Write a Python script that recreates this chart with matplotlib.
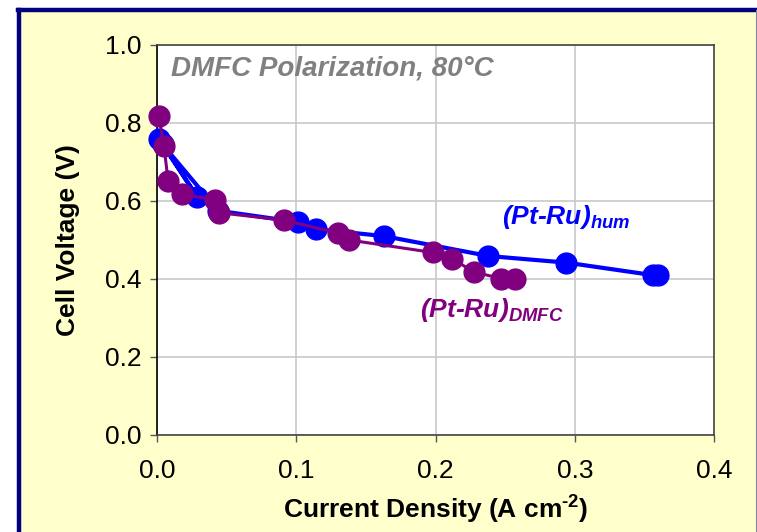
import matplotlib
matplotlib.use('Agg')
from matplotlib import pyplot as plt
from matplotlib.patches import Rectangle
from matplotlib.lines import Line2D

plt.rcParams['font.family'] = ['Liberation Sans', 'DejaVu Sans']
plt.rcParams['mathtext.fontset'] = 'custom'
plt.rcParams['mathtext.rm'] = 'Liberation Sans:bold'
plt.rcParams['mathtext.bf'] = 'Liberation Sans:bold'
plt.rcParams['mathtext.bfit'] = 'Liberation Sans:italic:bold'

# (Pt-Ru)hum
hum_x = [0.0015, 0.029, 0.004, 0.044, 0.101, 0.114, 0.163, 0.238, 0.294, 0.356, 0.360]
hum_y = [0.760, 0.610, 0.745, 0.575, 0.546, 0.528, 0.510, 0.459, 0.442, 0.410, 0.410]

# (Pt-Ru)DMFC
dmfc_x = [0.0014, 0.005, 0.008, 0.018, 0.0415, 0.0445, 0.091, 0.130, 0.138, 0.198, 0.212, 0.228, 0.247, 0.257]
dmfc_y = [0.818, 0.741, 0.651, 0.618, 0.602, 0.570, 0.551, 0.518, 0.500, 0.468, 0.451, 0.418, 0.401, 0.401]

xticks = [0.0, 0.1, 0.2, 0.3, 0.4]
yticks = [0.0, 0.2, 0.4, 0.6, 0.8, 1.0]

W, H = 757, 532
fig = plt.figure(figsize=(W / 100, H / 100), dpi=100)
fig.patch.set_facecolor('white')

# yellow panel with navy frame (kept below the axes)
fig.patches.append(Rectangle((19 / W, 0), 1 - 19 / W, 1 - 10 / H, transform=fig.transFigure,
                             facecolor='#FFFFCC', edgecolor='none', zorder=-2))
fig.lines.append(Line2D([19 / W, 19 / W], [0, 1 - 10 / H], transform=fig.transFigure,
                        color='#000080', lw=3.2, zorder=-1))
fig.lines.append(Line2D([17.5 / W, 1], [1 - 10 / H, 1 - 10 / H], transform=fig.transFigure,
                        color='#000080', lw=3.2, zorder=-1))
fig.lines.append(Line2D([756 / W, 756 / W], [0, 1 - 10 / H], transform=fig.transFigure,
                        color='#8080A0', lw=0.8, zorder=-1))

ax = fig.add_axes([157 / W, (H - 435) / H, (714 - 157) / W, (435 - 45) / H])
ax.set_facecolor('white')

ax.plot(hum_x, hum_y, '-o', color='#0000FF', lw=3, ms=15, zorder=3, clip_on=False)
ax.plot(dmfc_x, dmfc_y, '-o', color='#800080', lw=2.2, ms=15, zorder=4, clip_on=False)

ax.set_xlim(0, 0.4)
ax.set_ylim(0, 1.0)
ax.set_xticks(xticks)
ax.set_yticks(yticks)
ax.set_xticklabels(['%.1f' % t for t in xticks])
ax.set_yticklabels(['%.1f' % t for t in yticks])
ax.tick_params(axis='both', labelsize=19, direction='out', length=5, width=1, color='#555555')
ax.tick_params(axis='x', pad=12)
ax.tick_params(axis='y', pad=6)
ax.grid(True, color='#C8C8C8', lw=1.2)
ax.set_axisbelow(True)

ax.spines['left'].set_color('black')
for side in ['top', 'right', 'bottom']:
    ax.spines[side].set_color('#444444')
for s in ax.spines.values():
    s.set_linewidth(1.2)

ax.set_xlabel('Current Density (A cm$^{\\text{-2}}$)', fontsize=19, fontweight='bold', labelpad=7)
ax.set_ylabel('Cell Voltage (V)', fontsize=19, fontweight='bold', labelpad=18)

ax.text(0.01, 0.94, 'DMFC Polarization, 80°C', fontsize=20, fontweight='bold', style='italic',
        color='#808080', va='center', ha='left')
ax.text(0.248, 0.56, '(Pt-Ru)$_{\\mathbfit{hum}}$', fontsize=19, fontweight='bold',
        style='italic', color='#0000FF', va='center', ha='left')
ax.text(0.189, 0.32, '(Pt-Ru)$_{\\mathbfit{DMFC}}$', fontsize=19, fontweight='bold',
        style='italic', color='#800080', va='center', ha='left')

fig.savefig('out.png', dpi=100)
